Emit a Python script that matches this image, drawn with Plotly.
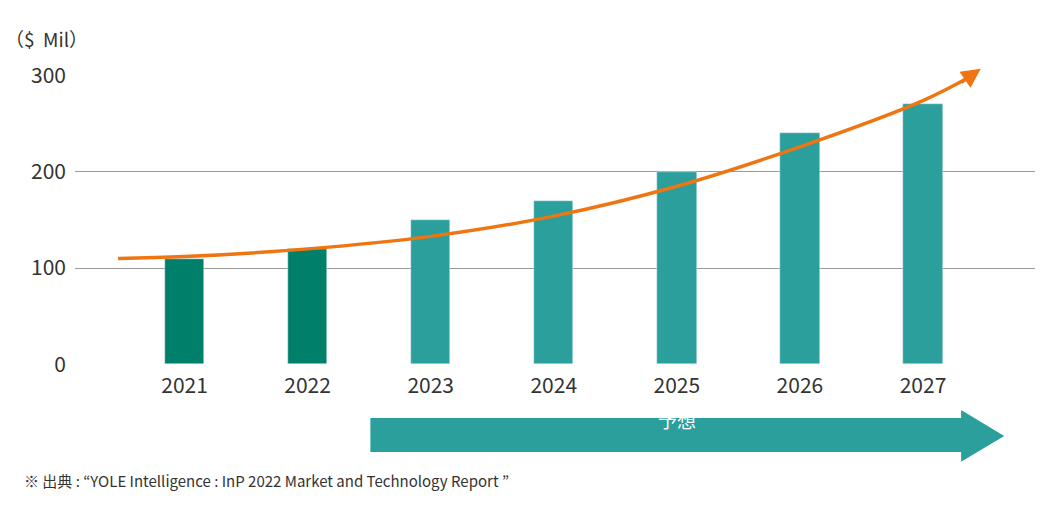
import plotly.graph_objects as go

years = ["2021", "2022", "2023", "2024", "2025", "2026", "2027"]
market = [110, 120, 150, 170, 200, 240, 270]
bar_colors = ["#00806A", "#00806A", "#2A9F9C", "#2A9F9C", "#2A9F9C", "#2A9F9C", "#2A9F9C"]

# trend curve (x in category index units)
trend_x = [-0.54, 0, 1, 2, 3, 4, 5, 6, 6.4]
trend_y = [110, 112, 120, 133, 154, 185, 226, 274, 300]

xs = list(range(len(years)))
orange = "#EE7512"

fig = go.Figure()
fig.add_trace(go.Bar(x=xs, y=market, marker_color=bar_colors, width=0.32, showlegend=False))
fig.add_trace(go.Scatter(x=trend_x, y=trend_y, mode="lines", line=dict(color=orange, width=3.5, shape="spline"),
                         showlegend=False))
fig.add_annotation(x=6.47, y=307, ax=6.3, ay=292, xref="x", yref="y", axref="x", ayref="y",
                   showarrow=True, arrowhead=2, arrowsize=1.1, arrowwidth=3.5, arrowcolor=orange, text="")

# forecast arrow
teal = "#2A9F9C"
fig.add_shape(type="path", xref="x", yref="paper", layer="below",
              path="M 1.51,-0.183 L 6.31,-0.183 L 6.31,-0.155 L 6.66,-0.245 L 6.31,-0.334 L 6.31,-0.3 L 1.51,-0.3 Z",
              fillcolor=teal, line_width=0)
fig.add_annotation(x=4.0, y=-0.24, xref="x", yref="paper", text="予想", showarrow=False,
                   font=dict(color="white", size=19))
fig.add_annotation(x=-0.075, y=1.18, xref="paper", yref="paper", text="（$  Mil）", showarrow=False,
                   xanchor="left", font=dict(size=19, color="#333"))
fig.add_annotation(x=-0.055, y=-0.44, xref="paper", yref="paper", xanchor="left", showarrow=False,
                   text="※ 出典 : “YOLE Intelligence : InP 2022 Market and Technology Report ”",
                   font=dict(size=15, color="#333"))

fig.update_layout(
    width=1040, height=508, margin=dict(l=67, r=13, t=67, b=151),
    plot_bgcolor="white", paper_bgcolor="white", bargap=0,
    font=dict(family="Noto Sans CJK JP", color="#333"),
    xaxis=dict(range=[-0.89, 6.91], tickvals=xs, ticktext=years, tickfont=dict(size=21),
               showgrid=False, zeroline=False, showline=False, ticks="", ticklabelstandoff=6),
    yaxis=dict(range=[-0.6, 300.6], tickvals=[0, 100, 200, 300], tickfont=dict(size=21),
               gridcolor="#999", gridwidth=1, zeroline=False, ticks="", ticklabelstandoff=8),
)
fig.write_html("out.html")
